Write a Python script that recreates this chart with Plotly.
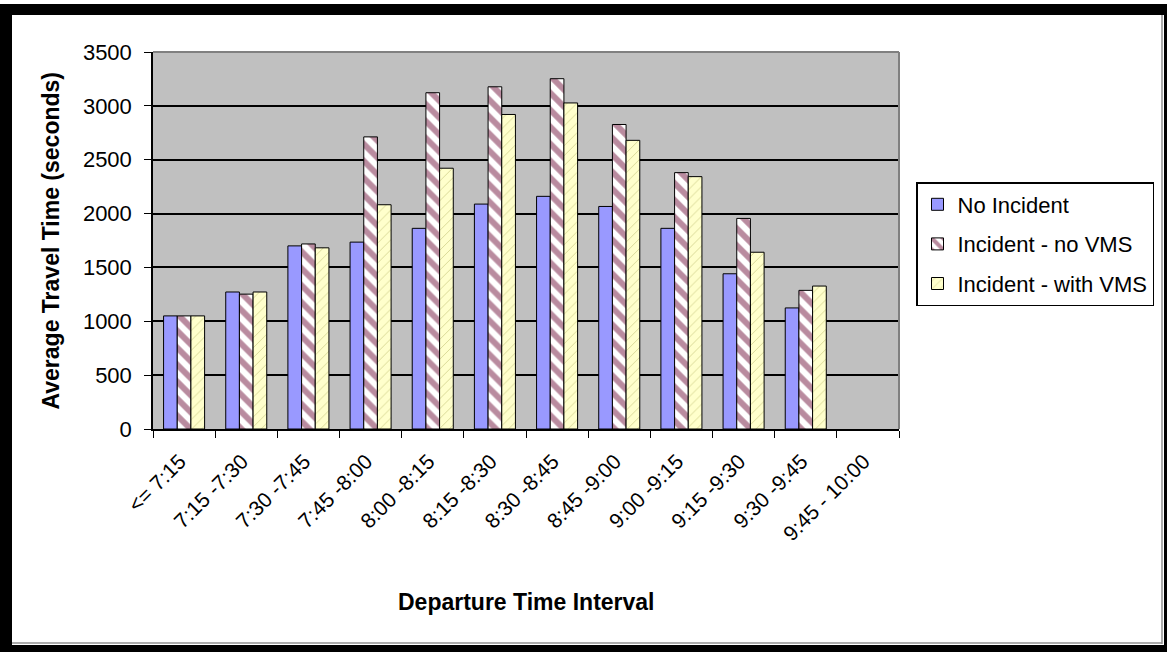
import plotly.graph_objects as go

# departure intervals (x categories)
intervals = ["<= 7:15", "7:15 -7:30", "7:30 -7:45", "7:45 -8:00", "8:00 -8:15",
             "8:15 -8:30", "8:30 -8:45", "8:45 -9:00", "9:00 -9:15", "9:15 -9:30",
             "9:30 -9:45", "9:45 - 10:00"]

# average travel time (seconds)
no_incident = [1050, 1272, 1700, 1735, 1863, 2088, 2160, 2066, 1863, 1441, 1124, None]
incident_no_vms = [1050, 1252, 1718, 2712, 3122, 3177, 3252, 2827, 2380, 1955, 1287, None]
incident_with_vms = [1050, 1272, 1682, 2082, 2421, 2920, 3027, 2680, 2343, 1641, 1327, None]

W, H = 1167, 652
L, R, T, B = 153, 268, 52, 223
pw, ph = W - L - R, H - T - B


def px(x):
    return (x - L) / pw


def py(y):
    return (H - B - y) / ph


fig = go.Figure()
fig.add_bar(x=intervals, y=no_incident, name="No Incident", legendgroup="a",
            marker=dict(color="#9999FF", line=dict(color="black", width=1)))
fig.add_bar(x=intervals, y=incident_no_vms, name="Incident - no VMS", legendgroup="b",
            marker=dict(color="white", line=dict(color="black", width=1),
                        pattern=dict(shape="\\", fgcolor="#74173F", bgcolor="white",
                                     size=12, solidity=0.5)))
fig.add_bar(x=intervals, y=incident_with_vms, name="Incident - with VMS", legendgroup="c",
            marker=dict(color="#FFFFCC", line=dict(color="black", width=1),
                        pattern=dict(shape="/", fgcolor="#A8A850", bgcolor="#FFFFCC",
                                     size=7, solidity=0.12)))

shapes = []
# plot area border (top and right, gray)
shapes.append(dict(type="line", xref="paper", yref="paper", x0=0, x1=1, y0=1, y1=1,
                   line=dict(color="#808080", width=2)))
shapes.append(dict(type="line", xref="paper", yref="paper", x0=1, x1=1, y0=0, y1=1,
                   line=dict(color="#808080", width=2)))
# black picture frame
for x0, y0, x1, y1 in [(0, 4, 12, 652), (0, 4, 1167, 15), (1164, 4, 1167, 652), (0, 645, 1167, 652)]:
    shapes.append(dict(type="rect", xref="paper", yref="paper",
                       x0=px(x0), x1=px(x1), y0=py(y0), y1=py(y1),
                       fillcolor="black", line=dict(width=0)))
shapes.append(dict(type="line", xref="paper", yref="paper", x0=px(1162), x1=px(1162),
                   y0=py(15), y1=py(644), line=dict(color="#909090", width=1.5)))
shapes.append(dict(type="line", xref="paper", yref="paper", x0=px(12), x1=px(1162),
                   y0=py(643), y1=py(643), line=dict(color="#909090", width=1.5)))

annotations = [
    dict(text="<b>Departure Time Interval</b>", xref="paper", yref="paper",
         x=0.5, y=py(602), xanchor="center", yanchor="middle", showarrow=False,
         font=dict(size=23)),
    dict(text="<b>Average Travel Time (seconds)</b>", xref="paper", yref="paper",
         x=px(50), y=0.5, xanchor="center", yanchor="middle", showarrow=False,
         textangle=-90, font=dict(size=23)),
]

fig.update_layout(
    width=W, height=H,
    margin=dict(l=L, r=R, t=T, b=B),
    paper_bgcolor="white",
    plot_bgcolor="#C0C0C0",
    font=dict(family="Arial, Liberation Sans, sans-serif", color="black", size=22),
    barmode="group",
    bargap=0.34,
    bargroupgap=0,
    showlegend=True,
    legend=dict(x=px(916), y=py(182), xanchor="left", yanchor="top",
                bgcolor="white", bordercolor="black", borderwidth=1.5,
                font=dict(size=22), tracegroupgap=8, itemwidth=30),
    shapes=shapes,
    annotations=annotations,
    xaxis=dict(
        type="category", categoryorder="array", categoryarray=intervals,
        range=[-0.5, len(intervals) - 0.5],
        tickmode="array", tickvals=intervals,
        ticktext=[s + "\u00a0" for s in intervals],
        tickangle=-45, tickson="boundaries", ticks="outside", ticklen=7,
        tickcolor="black", showline=True, linecolor="black", linewidth=1.5,
        showgrid=False, tickfont=dict(size=21), ticklabelstandoff=6,
    ),
    yaxis=dict(
        range=[0, 3500], dtick=500, ticks="outside", ticklen=7, tickcolor="black",
        showline=True, linecolor="black", linewidth=1.5,
        showgrid=True, gridcolor="black", gridwidth=1.5, zeroline=False,
        tickfont=dict(size=22), ticklabelstandoff=8,
    ),
)

fig.write_html("out.html", config={"displayModeBar": False},
               post_script="document.body.style.margin='0';")
